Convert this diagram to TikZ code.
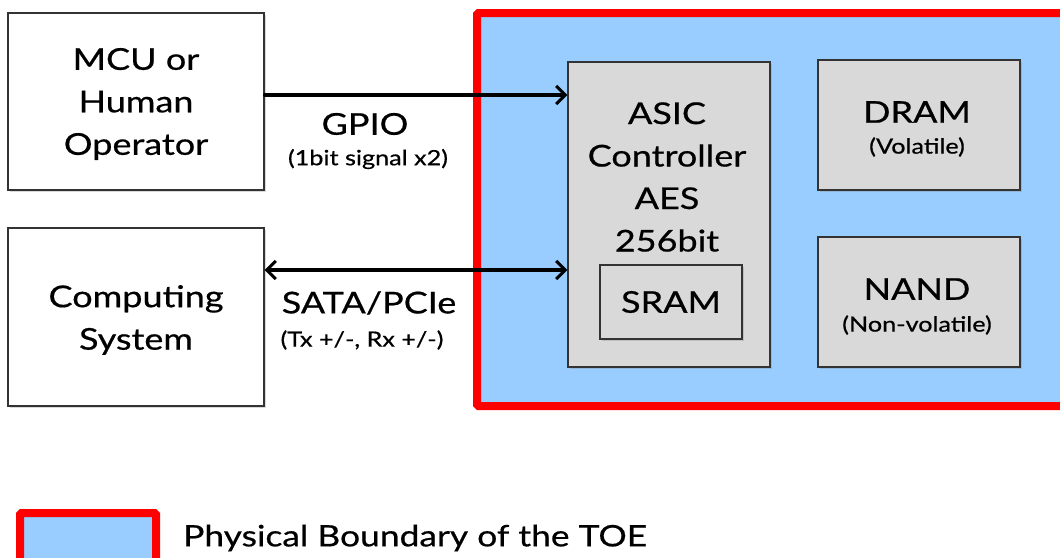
\documentclass[tikz,border=0pt]{standalone}
\usepackage{fontspec}
\setmainfont[FakeStretch=1.2,FakeBold=0.6]{Lato}
\usetikzlibrary{arrows.meta,shadows}
\definecolor{toeblue}{HTML}{99CCFF}
\definecolor{boxgray}{HTML}{D9D9D9}
\definecolor{toered}{HTML}{FF0000}
\begin{document}
\begin{tikzpicture}[x=1pt,y=-1pt,
  whitebox/.style={draw=black!80,line width=1.4pt,fill=white,inner sep=0pt,
    drop shadow={shadow xshift=2pt,shadow yshift=-2pt,opacity=0.3}},
  graybox/.style={draw=black!80,line width=1.4pt,fill=boxgray,inner sep=0pt,
    drop shadow={shadow xshift=2pt,shadow yshift=-2pt,opacity=0.3}},
  bigtxt/.style={font=\fontsize{30}{42.5}\selectfont,align=center,inner sep=0pt},
  smalltxt/.style={font=\fontsize{21}{24}\selectfont,inner sep=0pt},
  conn/.style={line width=3.5pt,line cap=round},
  tip/.style={-{Straight Barb[length=9pt,width=18pt,line width=3pt]}},
  boundary/.style={draw=toered,line width=8pt,fill=toeblue,rounded corners=1.5pt}]
\useasboundingbox (0,0) rectangle (1060,557);
\clip (0,0) rectangle (1060,557);
% physical boundary
\path[boundary] (477,13) rectangle (1090,406);
% left boxes
\node[whitebox,minimum width=256pt,minimum height=177pt] (mcu) at (136,101.5) {};
\node[bigtxt] (mcut) at (136,104) {MCU or\\Human\\Operator};
\node[whitebox,minimum width=256pt,minimum height=178pt] (comp) at (136,317) {};
\node[bigtxt] (compt) at (136,320) {Computing\\System};
% inner boxes
\node[graybox,minimum width=202pt,minimum height=305pt] (asic) at (669,214.5) {};
\node[bigtxt] (asict) at (667,177) {ASIC\\Controller\\AES\\256bit};
\node[graybox,minimum width=142pt,minimum height=74pt] (sram) at (671,302) {};
\node[bigtxt] (sramt) at (sram) {SRAM};
\node[graybox,minimum width=202pt,minimum height=130pt] (dram) at (919,125) {};
\node[bigtxt] (dramt) at (917,112) {DRAM};
\node[smalltxt] (dramv) at (917,147) {(Volatile)};
\node[graybox,minimum width=202pt,minimum height=130pt] (nand) at (919,302) {};
\node[bigtxt] (nandt) at (917,289) {NAND};
\node[smalltxt] (nandv) at (917,325) {(Non-volatile)};
% connectors
\coordinate (ga) at (0,95);
\coordinate (sa) at (0,270);
\draw[conn,tip] (mcu.east|-ga) -- (asic.west|-ga);
\draw[conn,{Straight Barb[length=9pt,width=18pt,line width=3pt]}-{Straight Barb[length=9pt,width=18pt,line width=3pt]}] (comp.east|-sa) -- (asic.west|-sa);
% labels
\node[bigtxt] (gpio) at (365,124) {GPIO};
\node[smalltxt] (gpios) at (368,159) {(1bit signal x2)};
\node[bigtxt] (sata) at (369,303) {SATA/PCIe};
\node[smalltxt] (satas) at (362,340) {(Tx +/-, Rx +/-)};
% legend
\path[boundary] (20,513) rectangle (156,575);
\node[anchor=west,font=\fontsize{29.5}{34}\selectfont,inner sep=0pt] (leg) at (183,538) {Physical Boundary of the TOE};
\end{tikzpicture}
\end{document}
